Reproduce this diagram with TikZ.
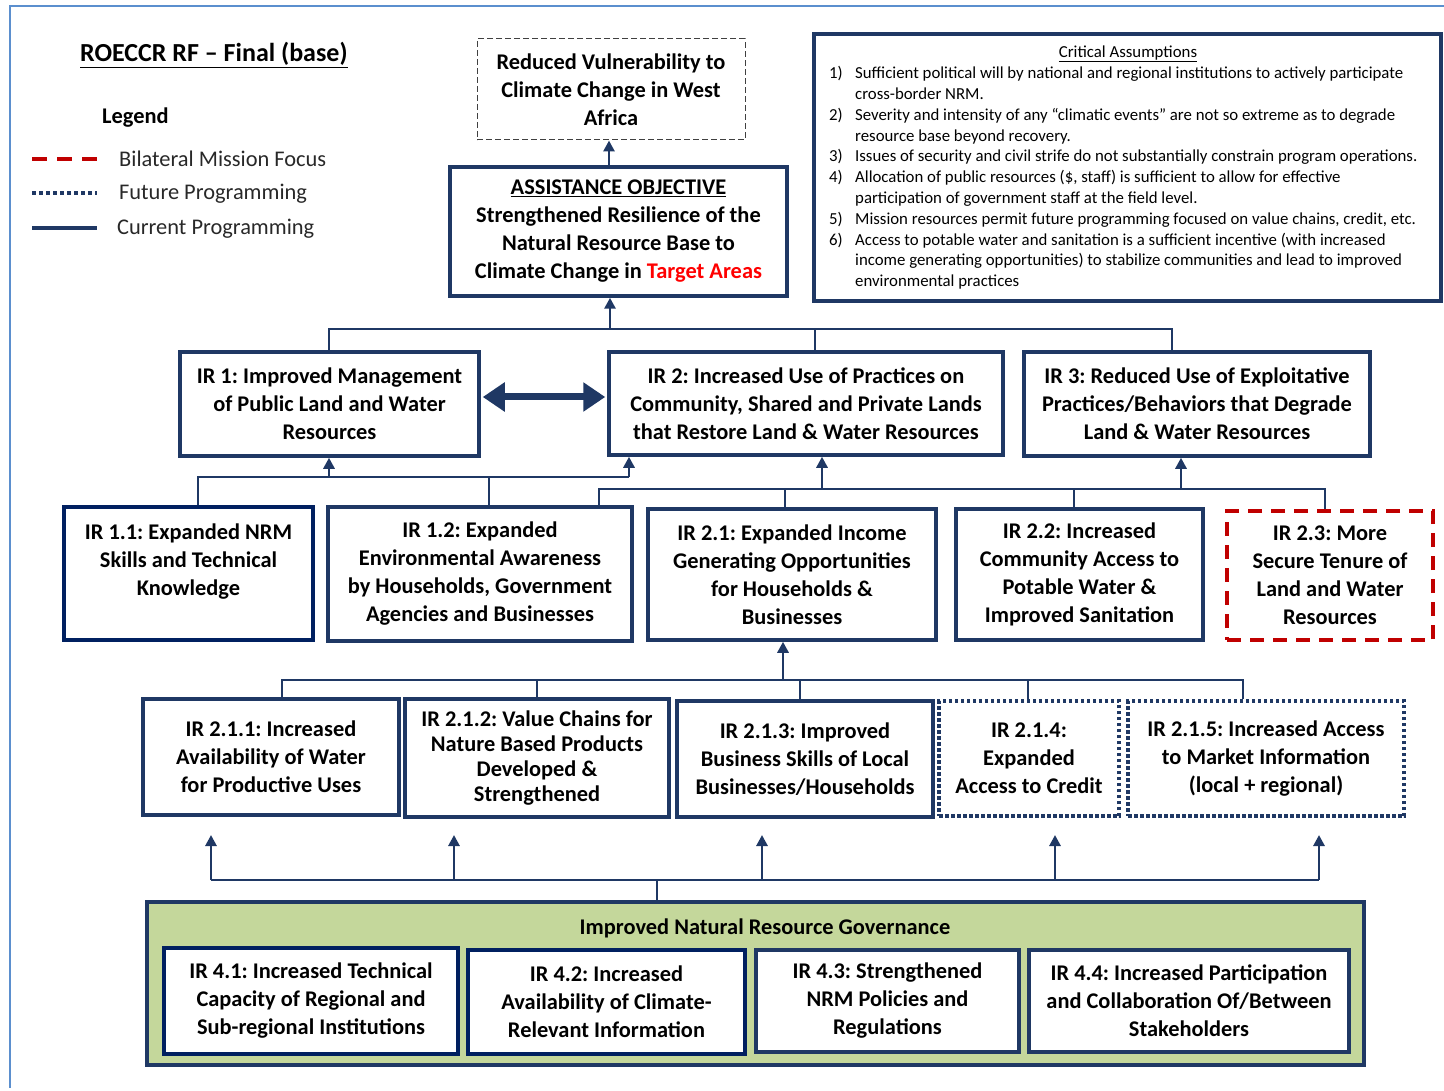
\documentclass[tikz,border=0pt]{standalone}
\usepackage{fontspec}
\setmainfont{Carlito}
\usetikzlibrary{arrows.meta}
\definecolor{navy}{RGB}{31,56,100}
\definecolor{dnavy}{RGB}{0,32,96}
\definecolor{mred}{RGB}{192,0,0}
\definecolor{tred}{RGB}{255,0,0}
\definecolor{govgreen}{RGB}{196,215,155}
\definecolor{framebl}{RGB}{91,143,206}
\definecolor{legtext}{RGB}{40,40,40}
\frenchspacing
\begin{document}
\begin{tikzpicture}[x=1pt,y=-1pt,
  irbox/.style={draw=navy, line width=3.5pt, fill=white, align=center, inner sep=2pt,
    font=\bfseries\fontsize{22.4}{28}\selectfont},
  darkbox/.style={irbox, draw=dnavy},
  redbox/.style={irbox, draw=mred, dash pattern=on 14pt off 9pt},
  dotbox/.style={irbox, dash pattern=on 3.5pt off 2.5pt},
  vulnbox/.style={draw=black!75, line width=1pt, dash pattern=on 6pt off 3pt, align=center,
    font=\bfseries\fontsize{22.4}{28}\selectfont},
  conn/.style={draw=navy, line width=2.8pt},
  arr/.style={conn, -{Triangle[length=11pt,width=11pt]}},
  legline/.style={line width=4pt},
  legtxt/.style={anchor=west, inner sep=0pt, text=legtext, font=\fontsize{22.4}{26}\selectfont}
]
\useasboundingbox (0,0) rectangle (1444,1091);
% page frame
\coordinate (frA) at (1444,6);
\coordinate (frB) at (10,6);
\coordinate (frC) at (10,1088);
\draw[framebl, line width=1.5pt] (frA) -- (frB) -- (frC);

% title and legend
\node[anchor=west, inner sep=0pt, font=\bfseries\fontsize{26}{30}\selectfont] (title) at (80,55) {\underline{ROECCR RF – Final (base)}};
\node[anchor=west, inner sep=0pt, font=\bfseries\fontsize{22.4}{26}\selectfont] (legend) at (102,118) {Legend};
\coordinate (l1a) at (32,159); \coordinate (l1b) at (97,159);
\coordinate (l2a) at (32,193); \coordinate (l2b) at (97,193);
\coordinate (l3a) at (32,228); \coordinate (l3b) at (97,228);
\draw[legline, mred, dash pattern=on 15pt off 10pt] (l1a) -- (l1b);
\draw[legline, navy, dash pattern=on 4pt off 3pt] (l2a) -- (l2b);
\draw[legline, navy] (l3a) -- (l3b);
\node[legtxt] (leg1) at (119,159) {Bilateral Mission Focus};
\node[legtxt] (leg2) at (119,194) {Future Programming};
\node[legtxt] (leg3) at (117,229) {Current Programming};

% critical assumptions
\node[draw=navy, line width=3.5pt, minimum width=627pt, minimum height=267pt] (cabox) at (1127.5,167.5) {};
\node[inner sep=0pt, font=\fontsize{16.8}{20.8}\selectfont] (catitle) at (1128,54) {\underline{Critical Assumptions}};
\node[anchor=north west, inner sep=0pt, align=left, font=\fontsize{16.8}{20.8}\selectfont] (calist) at (829,64) {%
\begin{tabular}{@{}p{26pt}@{}l@{}}
1) & Sufficient political will by national and regional institutions to actively participate\\
   & cross-border NRM.\\
2) & Severity and intensity of any “climatic events” are not so extreme as to degrade\\
   & resource base beyond recovery.\\
3) & Issues of security and civil strife do not substantially constrain program operations.\\
4) & Allocation of public resources (\$, staff) is sufficient to allow for effective\\
   & participation of government staff at the field level.\\
5) & Mission resources permit future programming focused on value chains, credit, etc.\\
6) & Access to potable water and sanitation is a sufficient incentive (with increased\\
   & income generating opportunities) to stabilize communities and lead to improved\\
   & environmental practices
\end{tabular}};

% top goal and assistance objective
\node[vulnbox, minimum width=268pt, minimum height=101pt] (vuln) at (611,89.5) {Reduced Vulnerability to\\Climate Change in West\\Africa};
\node[irbox, minimum width=337pt, minimum height=129pt] (ao) at (618.5,231.5) {\underline{ASSISTANCE OBJECTIVE}\\Strengthened Resilience of the\\Natural Resource Base to\\Climate Change in \textcolor{tred}{Target Areas}};

% IR level
\node[irbox, minimum width=299pt, minimum height=104pt] (ir1) at (329.5,404) {IR 1: Improved Management\\of Public Land and Water\\Resources};
\node[irbox, minimum width=394pt, minimum height=103pt] (ir2) at (806,403.5) {IR 2: Increased Use of Practices on\\Community, Shared and Private Lands\\that Restore Land \& Water Resources};
\node[irbox, minimum width=346pt, minimum height=104pt] (ir3) at (1197,404) {IR 3: Reduced Use of Exploitative\\Practices/Behaviors that Degrade\\Land \& Water Resources};

% sub IR level
\node[darkbox, minimum width=249pt, minimum height=133pt] (ir11) at (188.5,573.5) {IR 1.1: Expanded NRM\\Skills and Technical\\Knowledge\\~};
\node[irbox, minimum width=304pt, minimum height=134pt] (ir12) at (480,574) {IR 1.2: Expanded\\Environmental Awareness\\by Households, Government\\Agencies and Businesses};
\node[irbox, minimum width=288pt, minimum height=131pt] (ir21) at (792,574.5) {IR 2.1: Expanded Income\\Generating Opportunities\\for Households \&\\Businesses};
\node[irbox, minimum width=247pt, minimum height=131pt] (ir22) at (1079.5,574.5) {IR 2.2: Increased\\Community Access to\\Potable Water \&\\Improved Sanitation};
\node[redbox, minimum width=206pt, minimum height=129pt] (ir23) at (1330,575.5) {IR 2.3: More\\Secure Tenure of\\Land and Water\\Resources};

% IR 2.1.x level
\node[irbox, minimum width=256pt, minimum height=116pt] (ir211) at (271,757) {IR 2.1.1: Increased\\Availability of Water\\for Productive Uses};
\node[irbox, minimum width=264pt, minimum height=118pt, font=\bfseries\fontsize{22.4}{25}\selectfont] (ir212) at (537,758) {IR 2.1.2: Value Chains for\\Nature Based Products\\Developed \&\\Strengthened};
\node[irbox, minimum width=256pt, minimum height=116pt] (ir213) at (805,759) {IR 2.1.3: Improved\\Business Skills of Local\\Businesses/Households};
\node[dotbox, minimum width=180pt, minimum height=115pt] (ir214) at (1029,758.5) {IR 2.1.4:\\Expanded\\Access to Credit};
\node[dotbox, minimum width=276pt, minimum height=115pt] (ir215) at (1266,758.5) {IR 2.1.5: Increased Access\\to Market Information\\(local + regional)};

% governance block
\node[draw=navy, line width=3.5pt, fill=govgreen, minimum width=1217pt, minimum height=163pt] (gov) at (755.5,983.5) {};
\node[inner sep=0pt, font=\bfseries\fontsize{22.4}{26}\selectfont] (govtitle) at (765,928) {Improved Natural Resource Governance};
\node[darkbox, minimum width=294pt, minimum height=106pt] (ir41) at (311,1001) {IR 4.1: Increased Technical\\Capacity of Regional and\\Sub-regional Institutions};
\node[darkbox, minimum width=277pt, minimum height=104pt] (ir42) at (606.5,1002) {IR 4.2: Increased\\Availability of Climate-\\Relevant Information};
\node[irbox, minimum width=263pt, minimum height=102pt] (ir43) at (887.5,1001) {IR 4.3: Strengthened\\NRM Policies and\\Regulations};
\node[irbox, minimum width=320pt, minimum height=102pt] (ir44) at (1189,1001) {IR 4.4: Increased Participation\\and Collaboration Of/Between\\Stakeholders};

% connectors: AO -> goal
\coordinate (aotop) at (609,167);
\draw[arr] (ao.north -| aotop) -- (vuln.south -| aotop);

% bus A (IRs -> AO)
\coordinate (ba0) at (610,329);
\coordinate (ba1) at (329,329);
\coordinate (ba2) at (815,329);
\coordinate (ba3) at (1172,329);
\draw[conn] (ba1 |- ir1.north) -- (ba1) -- (ba3) -- (ba3 |- ir3.north);
\draw[conn] (ba2) -- (ba2 |- ir2.north);
\draw[arr] (ba0) -- (ba0 |- ao.south);

% IR1 <-> IR2
\draw[navy, line width=7pt, {Triangle[length=22pt,width=28pt]}-{Triangle[length=22pt,width=28pt]}] ([xshift=2pt]ir1.east |- 0,397) -- ([xshift=-2pt]ir2.west |- 0,397);

% bus B (IR1.x -> IR1, IR2)
\coordinate (bb1) at (198,477);
\coordinate (bb2) at (329,477);
\coordinate (bb3) at (489,477);
\coordinate (bb4) at (629,477);
\draw[conn] (bb1 |- ir11.north) -- (bb1) -- (bb4);
\draw[conn] (bb3) -- (bb3 |- ir12.north);
\draw[arr] (bb2) -- (bb2 |- ir1.south);
\draw[arr] (bb4) -- (bb4 |- ir2.south);

% bus C (IR2.x -> IR2, IR3)
\coordinate (bc1) at (599,489);
\coordinate (bc2) at (785,489);
\coordinate (bc3) at (822,489);
\coordinate (bc4) at (1074,489);
\coordinate (bc5) at (1181,489);
\coordinate (bc6) at (1325,489);
\draw[conn] (bc1 |- ir12.north) -- (bc1) -- (bc6) -- (bc6 |- ir23.north);
\draw[conn] (bc2) -- (bc2 |- ir21.north);
\draw[conn] (bc4) -- (bc4 |- ir22.north);
\draw[arr] (bc3) -- (bc3 |- ir2.south);
\draw[arr] (bc5) -- (bc5 |- ir3.south);

% bus D (IR2.1.x -> IR2.1)
\coordinate (bd1) at (282,680);
\coordinate (bd2) at (537,680);
\coordinate (bd0) at (783,680);
\coordinate (bd3) at (800,680);
\coordinate (bd4) at (1028,680);
\coordinate (bd5) at (1243,680);
\draw[conn] (bd1 |- ir211.north) -- (bd1) -- (bd5) -- (bd5 |- ir215.north);
\draw[conn] (bd2) -- (bd2 |- ir212.north);
\draw[conn] (bd3) -- (bd3 |- ir213.north);
\draw[conn] (bd4) -- (bd4 |- ir214.north);
\draw[arr] (bd0) -- (bd0 |- ir21.south);

% bus E (governance -> IR2.1.x)
\coordinate (be0) at (657,880);
\coordinate (be1) at (211,880);
\coordinate (be2) at (454,880);
\coordinate (be3) at (762,880);
\coordinate (be4) at (1055,880);
\coordinate (be5) at (1319,880);
\coordinate (te1) at (211,835);
\coordinate (te2) at (454,835);
\coordinate (te3) at (762,835);
\coordinate (te4) at (1055,835);
\coordinate (te5) at (1319,835);
\draw[conn] (be0 |- gov.north) -- (be0);
\draw[conn] (be1) -- (be5);
\draw[arr] (be1) -- (te1);
\draw[arr] (be2) -- (te2);
\draw[arr] (be3) -- (te3);
\draw[arr] (be4) -- (te4);
\draw[arr] (be5) -- (te5);
\end{tikzpicture}
\end{document}
